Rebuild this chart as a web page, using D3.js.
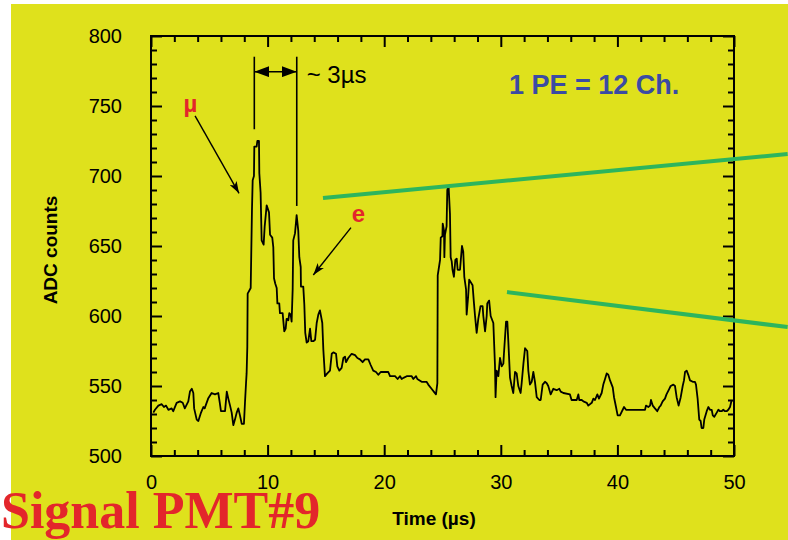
<!DOCTYPE html>
<html>
<head>
<meta charset="utf-8">
<script src="https://cdn.jsdelivr.net/npm/d3@7"></script>
<style>
  body { margin: 0; background: #fff; }
  svg { display: block; }
</style>
</head>
<body>
<div class="chart"></div>
<script>
// waveform: [time (us), ADC counts]
const waveform = [
  [0.2,531],[0.34,533],[0.63,536],[0.92,537],[1.11,535],[1.29,536],[1.49,533],[1.77,534],[1.91,532],
  [2.2,538],[2.49,539],[2.72,538],[2.9,534],[3.2,539],[3.34,546],[3.5,548],[3.63,545],[3.7,534],
  [3.92,526],[4.06,525],[4.29,531],[4.49,535],[4.6,534],[4.9,541],[5.2,545],[5.49,544],[5.77,545],
  [5.9,538],[6.0,532],[6.35,532],[6.5,546],[6.63,541],[6.78,536],[6.92,531],[7.06,522],[7.2,526],
  [7.35,531],[7.49,534],[7.63,529],[7.78,523],[7.97,523],[8.06,538],[8.15,552],[8.2,559],[8.26,578],
  [8.29,616],[8.55,620],[8.66,676],[8.72,697],[8.83,700],[8.86,721],[9.06,721],[9.12,725],[9.26,725],
  [9.29,702],[9.4,688],[9.49,654],[9.66,651],[9.75,664],[9.92,679],[10.12,674],[10.21,658],[10.4,656],
  [10.49,649],[10.55,627],[10.66,623],[10.78,620],[10.84,609],[11.0,609],[11.06,602],[11.29,602],
  [11.43,589],[11.55,591],[11.63,598],[11.78,597],[11.86,602],[11.98,601],[12.06,596],[12.15,619],
  [12.2,654],[12.35,659],[12.49,672],[12.63,661],[12.72,642],[12.84,635],[12.86,621],[13.06,621],
  [13.15,608],[13.23,588],[13.35,581],[13.49,582],[13.64,591],[13.75,582],[13.92,582],[14.07,583],
  [14.21,595],[14.35,601],[14.49,604],[14.58,600],[14.69,595],[14.78,576],[14.92,557],[15.12,559],
  [15.35,561],[15.5,573],[15.64,574],[15.87,573],[15.98,564],[16.15,561],[16.35,563],[16.5,570],
  [16.64,571],[16.72,567],[16.92,570],[17.21,573],[17.5,572],[17.7,570],[17.92,569],[18.15,567],
  [18.35,569],[18.64,569],[18.84,565],[19.06,561],[19.3,560],[19.49,558],[19.7,560],[20.07,560],
  [20.35,560],[20.5,557],[20.93,557],[21.15,555],[21.36,557],[21.5,555],[21.7,556],[21.93,557],
  [22.21,557],[22.36,557],[22.5,555],[22.73,557],[22.84,555],[23.21,553],[23.63,553],[23.78,551],
  [24.06,548],[24.44,544],[24.56,552],[24.59,629],[24.79,640],[24.85,656],[24.99,657],[25.02,666],
  [25.13,661],[25.16,642],[25.21,658],[25.35,664],[25.41,690],[25.52,693],[25.64,673],[25.7,642],
  [25.79,639],[25.86,633],[25.98,628],[26.1,640],[26.22,641],[26.3,633],[26.5,633],[26.67,650],
  [26.78,646],[26.87,628],[27.02,619],[27.07,601],[27.2,614],[27.29,626],[27.58,622],[27.7,609],
  [27.79,600],[27.93,588],[28.07,598],[28.26,607],[28.44,607],[28.5,600],[28.65,589],[28.79,600],
  [28.84,609],[29.0,611],[29.13,600],[29.36,595],[29.5,565],[29.55,542],[29.64,561],[29.79,557],
  [29.93,570],[30.08,564],[30.22,566],[30.27,573],[30.45,596],[30.56,596],[30.65,581],[30.79,556],
  [30.93,550],[31.07,545],[31.22,560],[31.36,559],[31.5,550],[31.7,545],[31.79,552],[31.94,566],
  [32.08,577],[32.27,575],[32.36,561],[32.5,551],[32.65,553],[32.79,560],[32.93,553],[33.08,542],
  [33.3,540],[33.42,540],[33.59,551],[33.79,553],[33.94,552],[34.07,550],[34.28,544],[34.5,548],
  [34.79,547],[35.02,548],[35.14,546],[35.37,545],[35.93,544],[36.07,540],[36.51,540],[36.65,544],
  [36.73,540],[36.94,540],[37.08,539],[37.37,538],[37.5,536],[37.8,538],[37.94,541],[38.08,540],
  [38.28,544],[38.42,541],[38.65,545],[38.79,551],[38.94,555],[39.08,559],[39.22,558],[39.37,554],
  [39.6,549],[39.71,542],[39.88,535],[40.02,529],[40.22,529],[40.57,535],[40.74,533],[41.08,533],
  [41.51,533],[41.94,533],[42.37,533],[42.45,536],[42.65,535],[42.8,536],[42.88,540],[43.03,536],
  [43.22,534],[43.42,532],[43.6,535],[43.71,536],[43.88,539],[44.08,541],[44.21,544],[44.45,548],
  [44.57,550],[44.8,551],[44.94,550],[45.08,542],[45.25,536],[45.43,542],[45.6,550],[45.71,554],
  [45.8,560],[45.94,561],[46.08,558],[46.23,554],[46.46,553],[46.65,553],[46.74,551],[46.88,541],
  [47.02,526],[47.14,525],[47.22,520],[47.37,520],[47.45,526],[47.66,532],[47.8,535],[47.94,533],
  [48.09,533],[48.18,529],[48.31,528],[48.52,531],[48.66,533],[48.8,532],[48.94,532],[49.08,533],
  [49.23,532],[49.37,532],[49.51,533],[49.66,535],[49.8,540]
];

const xTicks = [0, 10, 20, 30, 40, 50];
const xMinor = [2, 4, 6, 8, 12, 14, 16, 18, 22, 24, 26, 28, 32, 34, 36, 38, 42, 44, 46, 48];
const yTicks = [500, 550, 600, 650, 700, 750, 800];
const yMinor = [510, 520, 530, 540, 560, 570, 580, 590, 610, 620, 630, 640, 660, 670, 680, 690,
                710, 720, 730, 740, 760, 770, 780, 790];

// annotations, in data units
const muPeak = 8.86, ePeak = 12.5;
const muArrow = [[3.78, 742.9], [7.55, 687.6]];
const eArrow = [[17.15, 663.1], [13.92, 629.3]];
const greenLines = [
  [[14.75, 684.3], [54.6, 715.7]],
  [[30.53, 617.1], [54.6, 592.1]]
];

const W = 788, H = 540;
var margin = {top: 36, right: 54, bottom: 84, left: 151};
var width = W - margin.left - margin.right,
    height = H - margin.top - margin.bottom;

const font = "'Liberation Sans', Arial, Helvetica, sans-serif";
const yellow = "#dfe11c";

const root = d3.select(".chart").append("svg")
    .attr("width", W)
    .attr("height", H)
    .style("font-family", font);

root.append("rect")
    .attr("x", 11).attr("y", 4)
    .attr("width", W - 11).attr("height", H - 4)
    .attr("fill", yellow);

const defs = root.append("defs");
defs.append("marker")
    .attr("id", "head")
    .attr("markerUnits", "userSpaceOnUse")
    .attr("viewBox", "0 0 12 8")
    .attr("refX", 12).attr("refY", 4)
    .attr("markerWidth", 12).attr("markerHeight", 8)
    .attr("orient", "auto")
  .append("path")
    .attr("d", "M0,0L12,4L0,8L3,4Z")
    .attr("fill", "#000");
defs.append("marker")
    .attr("id", "bighead")
    .attr("markerUnits", "userSpaceOnUse")
    .attr("viewBox", "0 0 15 11")
    .attr("refX", 15).attr("refY", 5.5)
    .attr("markerWidth", 15).attr("markerHeight", 11)
    .attr("orient", "auto-start-reverse")
  .append("path")
    .attr("d", "M0,0L15,5.5L0,11Z")
    .attr("fill", "#000");

const svg = root.append("g")
    .attr("transform", "translate(" + margin.left + "," + margin.top + ")");

const xScale = d3.scaleLinear().domain([0, 50]).range([0, width]);
const yScale = d3.scaleLinear().domain([500, 800]).range([height, 0]);

function styleAxis(g) {
  g.select(".domain").remove();
  g.selectAll(".tick line").attr("stroke", "#000").attr("stroke-width", 2);
  g.selectAll(".tick text")
    .attr("font-family", font)
    .attr("font-size", 20)
    .attr("fill", "#000");
  g.attr("font-family", null).attr("font-size", null);
}

// major + minor ticks on all four sides, pointing inwards
svg.append("g")
    .attr("transform", `translate(0, ${height})`)
    .call(d3.axisBottom(xScale).tickValues(xTicks).tickSize(-11).tickPadding(19))
    .call(styleAxis);
svg.append("g")
    .attr("transform", `translate(0, ${height})`)
    .call(d3.axisBottom(xScale).tickValues(xMinor).tickSize(-6).tickFormat(""))
    .call(styleAxis);
svg.append("g")
    .call(d3.axisTop(xScale).tickValues(xTicks).tickSize(-11).tickFormat(""))
    .call(styleAxis);
svg.append("g")
    .call(d3.axisTop(xScale).tickValues(xMinor).tickSize(-6).tickFormat(""))
    .call(styleAxis);
svg.append("g")
    .call(d3.axisLeft(yScale).tickValues(yTicks).tickSize(-11).tickPadding(29))
    .call(styleAxis);
svg.append("g")
    .call(d3.axisLeft(yScale).tickValues(yMinor).tickSize(-6).tickFormat(""))
    .call(styleAxis);
svg.append("g")
    .attr("transform", `translate(${width}, 0)`)
    .call(d3.axisRight(yScale).tickValues(yTicks).tickSize(-11).tickFormat(""))
    .call(styleAxis);
svg.append("g")
    .attr("transform", `translate(${width}, 0)`)
    .call(d3.axisRight(yScale).tickValues(yMinor).tickSize(-6).tickFormat(""))
    .call(styleAxis);

svg.append("rect")
    .attr("width", width).attr("height", height)
    .attr("fill", "none")
    .attr("stroke", "#000")
    .attr("stroke-width", 2);

const line = d3.line()
    .x(d => xScale(d[0]))
    .y(d => yScale(d[1]));

svg.append("path")
    .datum(waveform)
    .attr("fill", "none")
    .attr("stroke", "#000")
    .attr("stroke-width", 1.8)
    .attr("stroke-linejoin", "round")
    .attr("d", line);

// peak markers and the ~3us spacing
svg.append("line")
    .attr("x1", xScale(muPeak)).attr("x2", xScale(muPeak))
    .attr("y1", yScale(785.2)).attr("y2", yScale(733.4))
    .attr("stroke", "#000").attr("stroke-width", 1.6);
svg.append("line")
    .attr("x1", xScale(ePeak)).attr("x2", xScale(ePeak))
    .attr("y1", yScale(785.2)).attr("y2", yScale(678.6))
    .attr("stroke", "#000").attr("stroke-width", 1.6);
svg.append("line")
    .attr("x1", xScale(muPeak)).attr("x2", xScale(ePeak))
    .attr("y1", yScale(774.5)).attr("y2", yScale(774.5))
    .attr("stroke", "#000").attr("stroke-width", 1.6)
    .attr("marker-start", "url(#bighead)")
    .attr("marker-end", "url(#bighead)");

svg.append("text")
    .attr("x", xScale(13.35)).attr("y", yScale(766.6))
    .attr("font-size", 24)
    .text("~ 3µs");

svg.append("text")
    .attr("x", xScale(30.7)).attr("y", yScale(758.6))
    .attr("font-size", 27)
    .attr("font-weight", "bold")
    .attr("fill", "#3b4ba3")
    .text("1 PE = 12 Ch.");

// particle labels with arrows
[muArrow, eArrow].forEach(a => {
  svg.append("line")
      .attr("x1", xScale(a[0][0])).attr("y1", yScale(a[0][1]))
      .attr("x2", xScale(a[1][0])).attr("y2", yScale(a[1][1]))
      .attr("stroke", "#000").attr("stroke-width", 1.4)
      .attr("marker-end", "url(#head)");
});
svg.append("text")
    .attr("x", xScale(3.39)).attr("y", yScale(745.7))
    .attr("text-anchor", "middle")
    .attr("font-size", 24).attr("font-weight", "bold")
    .attr("fill", "#e3262b")
    .text("µ");
svg.append("text")
    .attr("x", xScale(17.8)).attr("y", yScale(667.1))
    .attr("text-anchor", "middle")
    .attr("font-size", 24).attr("font-weight", "bold")
    .attr("fill", "#e3262b")
    .text("e");

// green guide lines running off to the right
greenLines.forEach(l => {
  svg.append("line")
      .attr("x1", xScale(l[0][0])).attr("y1", yScale(l[0][1]))
      .attr("x2", xScale(l[1][0])).attr("y2", yScale(l[1][1]))
      .attr("stroke", "#2db55d").attr("stroke-width", 4);
});

// axis titles
svg.append("text")
    .attr("transform", `translate(${50 - margin.left}, ${250 - margin.top}) rotate(-90)`)
    .attr("text-anchor", "middle")
    .attr("dy", "0.35em")
    .attr("font-size", 19).attr("font-weight", "bold")
    .text("ADC counts");
svg.append("text")
    .attr("x", 434 - margin.left).attr("y", 525 - margin.top)
    .attr("text-anchor", "middle")
    .attr("font-size", 19).attr("font-weight", "bold")
    .text("Time (µs)");

root.append("text")
    .attr("x", 1).attr("y", 528)
    .attr("font-family", "'Liberation Serif', 'Times New Roman', serif")
    .attr("font-size", 52).attr("font-weight", "bold")
    .attr("fill", "#e3262b")
    .text("Signal PMT#9");
</script>
</body>
</html>
